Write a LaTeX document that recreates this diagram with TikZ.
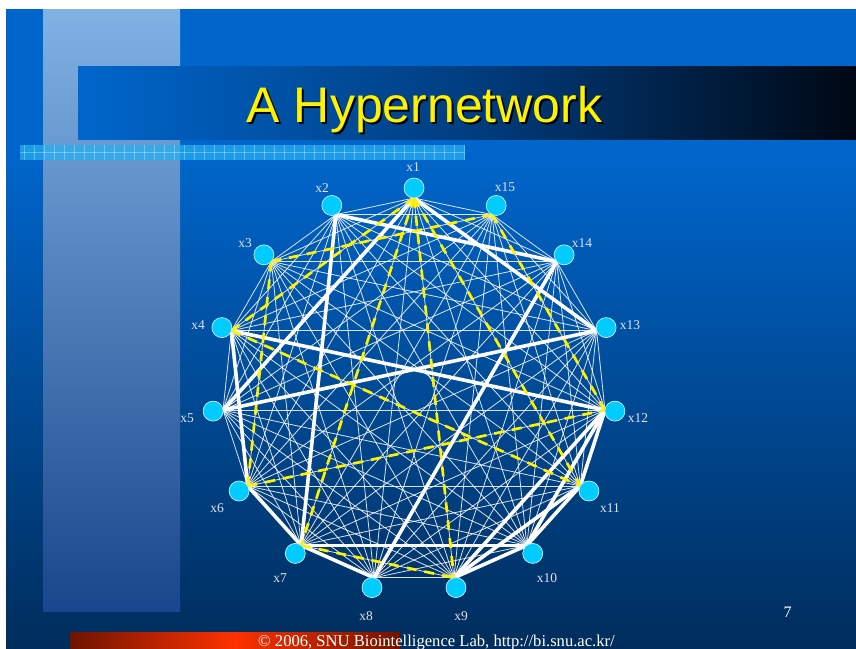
\documentclass[tikz,border=0pt]{standalone}
\usepackage{fontspec}
\setmainfont{Liberation Serif}
\newfontfamily\titlefont{Liberation Sans}
\usetikzlibrary{calc}
\definecolor{bgtop}{RGB}{0,102,204}
\definecolor{bgbot}{RGB}{0,45,92}
\definecolor{bartop}{RGB}{128,178,228}
\definecolor{barbot}{RGB}{25,70,140}
\definecolor{tbmid}{RGB}{0,62,128}
\definecolor{tbright}{RGB}{0,8,20}
\definecolor{nodecyan}{RGB}{0,204,255}
\definecolor{stripc}{RGB}{40,175,240}
\definecolor{labelc}{RGB}{225,225,235}
\definecolor{footdark}{RGB}{110,20,0}
\definecolor{footbright}{RGB}{255,50,0}
\begin{document}
\begin{tikzpicture}[x=1pt,y=-1pt,
  thinedge/.style={white,opacity=0.85,line width=0.8pt},
  thickedge/.style={white,line width=3.6pt},
  hyperedge/.style={yellow,line width=2.7pt,dash pattern=on 10pt off 8pt},
  vertex/.style={circle,fill=nodecyan,draw=white!75!nodecyan,line width=0.7pt,minimum size=20pt,inner sep=0pt},
  vlabel/.style={text=labelc,font=\fontsize{13.5}{14}\selectfont,inner sep=0pt}]
\useasboundingbox (0,0) rectangle (856,648);
\fill[white] (0,0) rectangle (856,648);
% background
\fill[bgtop] (6,9) rectangle (856,150);
\shade[top color=bgtop,bottom color=bgbot] (6,149.5) rectangle (856,648);
% left light bar
\shade[top color=bartop,bottom color=barbot] (43,9) rectangle (180,611);
% title bar
\shade[left color=bgtop,right color=tbright,middle color=tbmid] (78,66) rectangle (856,139);
% strip
\fill[stripc,opacity=0.75] (20,145) rectangle (465,160);
\foreach \x in {24,34,...,464} \draw[white,opacity=0.3,line width=0.5pt] (\x,145) -- (\x,160);
\draw[white,opacity=0.3,line width=0.5pt] (20,152.5) -- (465,152.5);
% title
\node[anchor=base west,inner sep=0pt,font=\titlefont\fontsize{50}{51}\selectfont,text=black] (titleshadow) at (248.5,124.5) {A Hypernetwork};
\node[anchor=base west,inner sep=0pt,font=\titlefont\fontsize{50}{51}\selectfont,text=yellow] (title) at (246.5,122.5) {A Hypernetwork};
% footer
\shade[left color=footdark,right color=footdark,middle color=footbright] (70,632) rectangle (400,648);
\node[anchor=base west,text=white,font=\fontsize{16.6}{17}\selectfont,inner sep=0pt] (footer) at (258,646) {© 2006, SNU Biointelligence Lab, http://bi.snu.ac.kr/};
\node[anchor=base,text=white,font=\fontsize{16}{17}\selectfont,inner sep=0pt] (pagenum) at (787.5,617) {7};
% graph points
\foreach \k in {1,...,15} {
  \pgfmathsetmacro\ang{90+(\k-1)*24}
  \coordinate (c\k) at ({414+192*cos(\ang)},{390-192*sin(\ang)});
}
% complete graph (thin)
\foreach \i in {1,...,14} {
  \pgfmathtruncatemacro\s{\i+1}
  \foreach \j in {\s,...,15} \draw[thinedge] (c\i) -- (c\j);
}
% thick hyperedges
\foreach \a/\b in {1/5,1/13,5/13,2/14,2/7,4/12,4/6,6/7,7/8,7/10,8/14,9/10,9/11,9/12,10/11,10/12,11/12}
  \draw[thickedge,line cap=round] (c\a) -- (c\b);
% yellow dashed hyperedges
\foreach \a/\b in {1/4,1/7,1/9,1/11,3/6,3/15,4/11,6/12,7/9,12/15}
  \draw[hyperedge] (c\a) -- (c\b);
% vertices
\foreach \k in {1,...,15} {
  \pgfmathsetmacro\ang{90+(\k-1)*24}
  \node[vertex] (n\k) at ({414+202*cos(\ang)},{390-202*sin(\ang)}) {};
}
% labels
\node[vlabel] (l1) at (413,167) {x1};
\node[vlabel] (l2) at (322,188) {x2};
\node[vlabel] (l3) at (245,243) {x3};
\node[vlabel] (l4) at (198,325) {x4};
\node[vlabel] (l5) at (187,418) {x5};
\node[vlabel] (l6) at (217,508) {x6};
\node[vlabel] (l7) at (280,578) {x7};
\node[vlabel] (l8) at (366,616) {x8};
\node[vlabel] (l9) at (461,616) {x9};
\node[vlabel] (l10) at (547,578) {x10};
\node[vlabel] (l11) at (610,508) {x11};
\node[vlabel] (l12) at (638,418) {x12};
\node[vlabel] (l13) at (630,325) {x13};
\node[vlabel] (l14) at (582,243) {x14};
\node[vlabel] (l15) at (505,187) {x15};
\end{tikzpicture}
\end{document}
